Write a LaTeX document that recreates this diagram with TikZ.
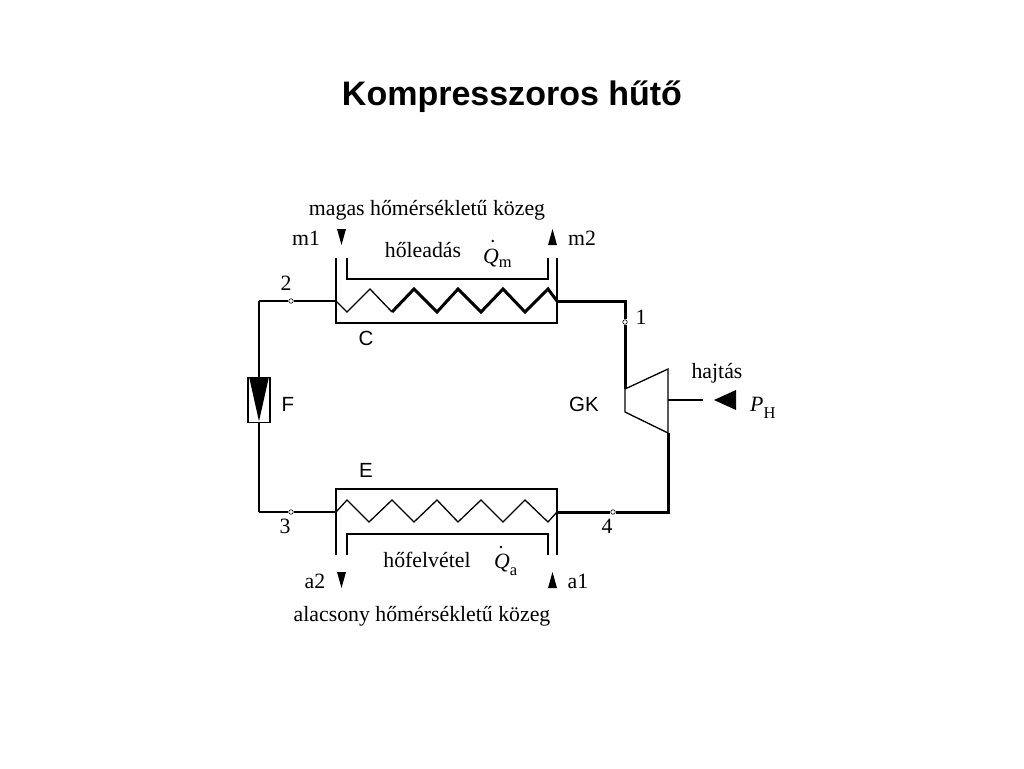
\documentclass[tikz,border=0pt]{standalone}
\usepackage{fontspec}
\setmainfont{Liberation Serif}
\setsansfont{Liberation Sans}
\usepackage{tikz}
\usetikzlibrary{arrows.meta}

% Q (hoaram) felirat indexszel
\newcommand{\qsub}[2]{\textit{Q}\raisebox{-#2}{\fontsize{16.5}{18}\selectfont #1}}

\tikzset{
  pipe/.style={line width=1.3pt},
  hotpipe/.style={line width=3pt},
  port/.style={circle,draw,fill=white,inner sep=0pt,minimum size=4.5pt,line width=0.6pt},
  lbl/.style={font=\fontsize{21.8}{24}\selectfont,inner sep=0pt,anchor=base},
  slbl/.style={font=\sffamily\fontsize{20.5}{24}\selectfont,inner sep=0pt,anchor=base},
}

\begin{document}
\begin{tikzpicture}[x=1pt,y=-1pt]
  \useasboundingbox[fill=white] (0,0) rectangle (1024,768);
  \node[font=\sffamily\bfseries\fontsize{34}{40}\selectfont,inner sep=0pt,anchor=base] (title) at (512,105) {Kompresszoros hűtő};

  % pipe corners
  \coordinate (cin) at (336,301);
  \coordinate (cout) at (557,301);
  \coordinate (ktop) at (625,301);
  \coordinate (kin) at (625,389);
  \coordinate (kout) at (668,433);
  \coordinate (kbot) at (668,512);
  \coordinate (eout) at (557,512);
  \coordinate (ein) at (336,512);
  \coordinate (lbot) at (259,512);
  \coordinate (ltop) at (259,301);

  % measuring points
  \node[port] (p2) at (291,301) {};
  \node[port] (p1) at (625,322) {};
  \node[port] (p3) at (291,512) {};
  \node[port] (p4) at (613,512) {};

  % C kondenzator
  \draw[pipe] (336,258)--(336,323)--(557,323)--(557,258);
  \draw[pipe] (347,258)--(347,279)--(548,279)--(548,258);
  \draw[pipe,line join=miter] (cin)--(347,312)--(370,289)--(392,312);
  \draw[hotpipe,line join=miter] (392,312)--(414,289)--(437,312)--(458,289)--(481,312)
     --(503,289)--(525,312)--(548,289)--(cout);

  % E elparologtato
  \draw[pipe] (336,555)--(336,489)--(557,489)--(557,555);
  \draw[pipe] (347,555)--(347,534)--(548,534)--(548,555);
  \draw[pipe,line join=miter] (ein)--(347,500)--(369,522)--(392,500)--(414,522)--(437,500)
     --(458,522)--(481,500)--(503,522)--(525,500)--(548,522)--(eout);

  % F fojtoszelep
  \node[draw,line width=1.5pt,minimum width=22pt,minimum height=45pt,inner sep=0pt] (valve) at (259,400) {};
  \fill ([xshift=2pt,yshift=-1pt]valve.north west)--([xshift=-2pt,yshift=-1pt]valve.north east)
     --([yshift=2pt]valve.south)--cycle;

  % GK kompresszor
  \draw[pipe,line join=miter] (kin)--(668,369)--(668,433)--(625,412)--cycle;
  \coordinate (shaft) at (668,400);
  \coordinate (shaftend) at (703,400);
  \draw[pipe] (shaft)--(shaftend);
  \fill (714,400)--(736,390)--(736,410)--cycle;%hajtas

  % csovezetek
  \draw[pipe] (ltop)--(p2)--(cin);
  \draw[pipe] (ltop)--(valve.north);
  \draw[pipe] (valve.south)--(lbot);
  \draw[pipe] (lbot)--(p3)--(ein);
  \draw[hotpipe,line join=miter] (cout)--(ktop)--(p1)--(kin);
  \draw[hotpipe,line join=miter] (kout)--(kbot)--(p4)--(eout);

  % kozeg nyilak
  \fill (337,229)--(346,229)--(341.5,245)--cycle;
  \fill (548,245)--(557,245)--(552.5,229)--cycle;
  \fill (337,572)--(346,572)--(341.5,588)--cycle;
  \fill (548,588)--(557,588)--(552.5,572)--cycle;

  % feliratok
  \node[lbl] (mtext) at (427,215) {magas hőmérsékletű közeg};
  \node[lbl] (m1) at (306,245) {m1};
  \node[lbl] (m2) at (582,245) {m2};
  \node[lbl] (qm) at (423,257) {hőleadás};
  \node[lbl,anchor=base west] (qmdot) at (483,263) {\qsub{m}{4pt}};
  \fill (qmdot.base west) ++(9.7,-22) circle (1.4);%pont
  \node[lbl] (l2) at (286,290) {2};
  \node[lbl] (l1) at (641,324) {1};
  \node[slbl] (lC) at (366,345) {C};
  \node[slbl] (lF) at (288,411) {F};
  \node[slbl] (lGK) at (584,411) {GK};
  \node[lbl] (drive) at (717,378) {hajtás};
  \node[lbl,anchor=base west] (ph) at (750,411) {\textit{P}\raisebox{-7pt}{\fontsize{16.5}{18}\selectfont H}};
  \node[slbl] (lE) at (366,477) {E};
  \node[lbl] (l3) at (285,533) {3};
  \node[lbl] (l4) at (607,533) {4};
  \node[lbl] (a2) at (315,588) {a2};
  \node[lbl] (a1) at (578,588) {a1};
  \node[lbl] (qa) at (427,567) {hőfelvétel};
  \node[lbl,anchor=base west] (qadot) at (494,568) {\qsub{a}{7pt}};
  \fill (qadot.base west) ++(7,-21) circle (1.4);%pont
  \node[lbl] (atext) at (422,621) {alacsony hőmérsékletű közeg};
\end{tikzpicture}
\end{document}
